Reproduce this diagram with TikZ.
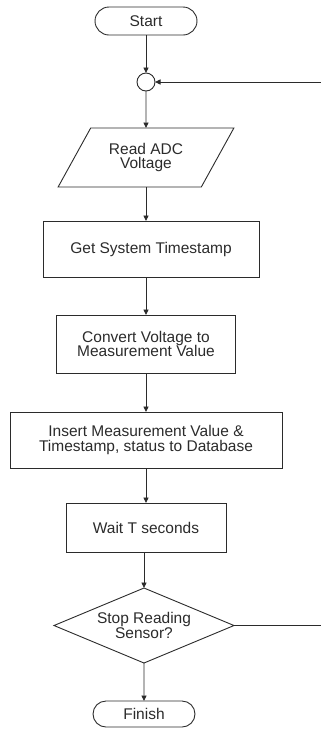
\documentclass[tikz,border=0pt]{standalone}
\usepackage{fontspec}
\setmainfont{Liberation Sans}
\usepackage{tikz}
\usetikzlibrary{arrows.meta,shapes.geometric,shapes.misc,positioning}

\definecolor{chartgray}{HTML}{2B2B2B}

\tikzset{
	base/.style={draw=chartgray,text=chartgray,line width=0.9pt,align=center,inner sep=0pt,outer sep=0pt,
		font=\fontsize{15.5pt}{14.5pt}\selectfont},
	terminal/.style={base,rounded rectangle,minimum width=102pt,minimum height=28pt},
	joint/.style={base,circle,minimum size=18pt},
	inout/.style={base,trapezium,trapezium left angle=53,trapezium right angle=127,
		trapezium stretches=true,minimum width=176pt,minimum height=59pt},
	process/.style={base,rectangle},
	decision/.style={base,diamond,aspect=2.4,minimum width=180pt,minimum height=75pt},
	flow/.style={draw=chartgray,line width=0.9pt,-{Triangle[length=5.5pt,width=5pt]}},
	link/.style={draw=chartgray,line width=0.9pt}
}

\begin{document}
\begin{tikzpicture}[x=1pt,y=1pt]

	\useasboundingbox (0,0) rectangle (321,-729);

	\node[terminal] (start) at (146,-21) {Start};
	\node[joint,below=38pt of start] (join) {};
	\node[inout,below=37pt of join] (read) {Read ADC\\Voltage};
	\node[process,below=34pt of read,xshift=5pt,minimum width=216pt,minimum height=56pt] (stamp) {Get System Timestamp};
	\node[process,below=38pt of stamp,xshift=-5pt,minimum width=179pt,minimum height=58pt] (convert) {Convert Voltage to\\Measurement Value};
	\node[process,below=39pt of convert,minimum width=272pt,minimum height=56pt] (insert) {Insert Measurement Value \&\\Timestamp, status to Database};
	\node[process,below=35pt of insert,minimum width=160pt,minimum height=49pt] (wait) {Wait T seconds};
	\node[decision,below=36pt of wait,xshift=-2pt] (check) {Stop Reading\\Sensor?};
	\node[terminal,below=38pt of check,minimum height=26pt] (finish) {Finish};

	\coordinate (edge) at (321,0);

	\draw[flow] (start) -- (join);
	\draw[flow] (join) -- (read);
	\draw[flow] (read.south) -- (read.south |- stamp.north);
	\draw[flow] (convert.north |- stamp.south) -- (convert.north);
	\draw[flow] (convert) -- (insert);
	\draw[flow] (insert) -- (wait);
	\draw[flow] (wait.south) -- (wait.south -| check.north) -- (check.north);
	\draw[flow] (check) -- (finish);

	\draw[flow] (join.east -| edge) -- (join.east);
	\draw[link] (check.east) -- (check.east -| edge);

\end{tikzpicture}
\end{document}
